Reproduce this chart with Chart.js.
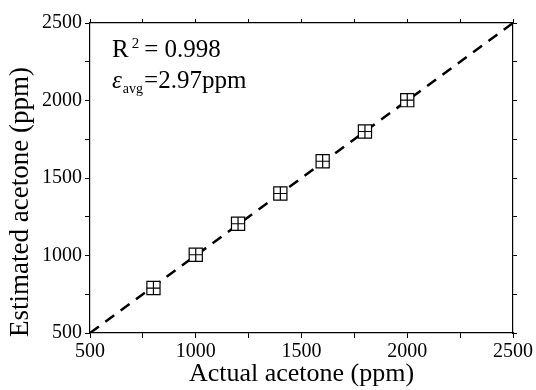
<!DOCTYPE html>
<html>
<head>
<meta charset="utf-8">
<script src="https://cdn.jsdelivr.net/npm/chart.js@4"></script>
<style>
  html, body { margin: 0; padding: 0; background: #fff; }
  #wrap { width: 536px; height: 390px; }
</style>
</head>
<body>
<div id="wrap"><canvas id="acetoneChart" width="536" height="390"></canvas></div>
<script>
const actualPpm = [800, 1000, 1200, 1400, 1600, 1800, 2000];
const estimatedPpm = [790, 1005, 1205, 1400, 1608, 1800, 2002];
const fitLineX = [500, 2500];
const fitLineY = [500, 2500];
const axisMin = 500;
const axisMax = 2500;

const serif = "'Liberation Serif', 'Times New Roman', serif";

const points = actualPpm.map((x, i) => ({ x: x, y: estimatedPpm[i] }));
const fitLine = fitLineX.map((x, i) => ({ x: x, y: fitLineY[i] }));

// R^2 / eps_avg note and the y title (sits a bit below the middle in the original)
const notePlugin = {
    id: "notes",
    afterDraw(chart) {
        const ctx = chart.ctx;
        const left = chart.chartArea.left + 22;
        ctx.save();
        ctx.fillStyle = "#000";
        ctx.textBaseline = "alphabetic";
        ctx.textAlign = "left";

        ctx.font = "25px " + serif;
        ctx.fillText("R", left, 57);
        let x = left + ctx.measureText("R").width + 3;
        ctx.font = "15px " + serif;
        ctx.fillText("2", x, 48);
        x += ctx.measureText("2").width + 5;
        ctx.font = "25px " + serif;
        ctx.fillText("= 0.998", x, 57);

        ctx.font = "italic 25px " + serif;
        ctx.fillText("\u03b5", left, 88);
        x = left + ctx.measureText("\u03b5").width + 1;
        ctx.font = "14px " + serif;
        ctx.fillText("avg", x, 93);
        x += ctx.measureText("avg").width + 1;
        ctx.font = "25px " + serif;
        ctx.fillText("=2.97ppm", x, 88);

        ctx.translate(21, 202);
        ctx.rotate(-Math.PI / 2);
        ctx.textAlign = "center";
        ctx.textBaseline = "middle";
        ctx.font = "27px " + serif;
        ctx.fillText("Estimated acetone (ppm)", 0, 0);
        ctx.restore();
    },
};

const tickLabel = (v) => (v % 500 === 0 ? v : "");

new Chart(document.getElementById("acetoneChart"), {
    type: "scatter",
    data: {
        datasets: [
            {
                label: "fit",
                type: "line",
                data: fitLine,
                borderColor: "#000",
                borderWidth: 2.5,
                borderDash: [11, 8],
                pointRadius: 0,
                fill: false,
                order: 3,
            },
            {
                label: "Estimated",
                data: points,
                pointStyle: "rect",
                pointRadius: 9.3,
                borderColor: "#000",
                backgroundColor: "#fff",
                borderWidth: 1.2,
                order: 2,
            },
            {
                label: "error",
                data: points,
                pointStyle: "cross",
                pointRadius: 6.5,
                borderColor: "#000",
                borderWidth: 1.2,
                order: 1,
            },
        ],
    },
    options: {
        responsive: false,
        animation: false,
        layout: { padding: 0 },
        plugins: {
            legend: { display: false },
            tooltip: { enabled: false },
        },
        scales: {
            x: {
                type: "linear",
                position: "bottom",
                min: axisMin,
                max: axisMax,
                afterFit: (s) => { s.height = 57; },
                grid: { drawOnChartArea: false, tickLength: 5, color: "#000" },
                border: { color: "#000", width: 1.2 },
                ticks: {
                    stepSize: 250,
                    color: "#000",
                    padding: 2,
                    maxRotation: 0,
                    autoSkip: false,
                    font: { family: serif, size: 20 },
                    callback: tickLabel,
                },
                title: {
                    display: true,
                    text: "Actual acetone (ppm)",
                    color: "#000",
                    font: { family: serif, size: 26 },
                    padding: { top: 0, bottom: 0 },
                },
            },
            x2: {
                type: "linear",
                position: "top",
                min: axisMin,
                max: axisMax,
                afterFit: (s) => { s.height = 23; },
                grid: { drawOnChartArea: false, tickLength: 4, color: "#000" },
                border: { color: "#000", width: 1.2 },
                ticks: { stepSize: 250, display: false },
            },
            y: {
                type: "linear",
                position: "left",
                min: axisMin,
                max: axisMax,
                afterFit: (s) => { s.width = 90; },
                grid: { drawOnChartArea: false, tickLength: 5, color: "#000" },
                border: { color: "#000", width: 1.2 },
                ticks: {
                    stepSize: 250,
                    color: "#000",
                    padding: 3,
                    autoSkip: false,
                    font: { family: serif, size: 20 },
                    callback: tickLabel,
                },
            },
            y2: {
                type: "linear",
                position: "right",
                min: axisMin,
                max: axisMax,
                afterFit: (s) => { s.width = 23; },
                grid: { drawOnChartArea: false, tickLength: 4, color: "#000" },
                border: { color: "#000", width: 1.2 },
                ticks: { stepSize: 250, display: false },
            },
        },
    },
    plugins: [notePlugin],
});
</script>
</body>
</html>
